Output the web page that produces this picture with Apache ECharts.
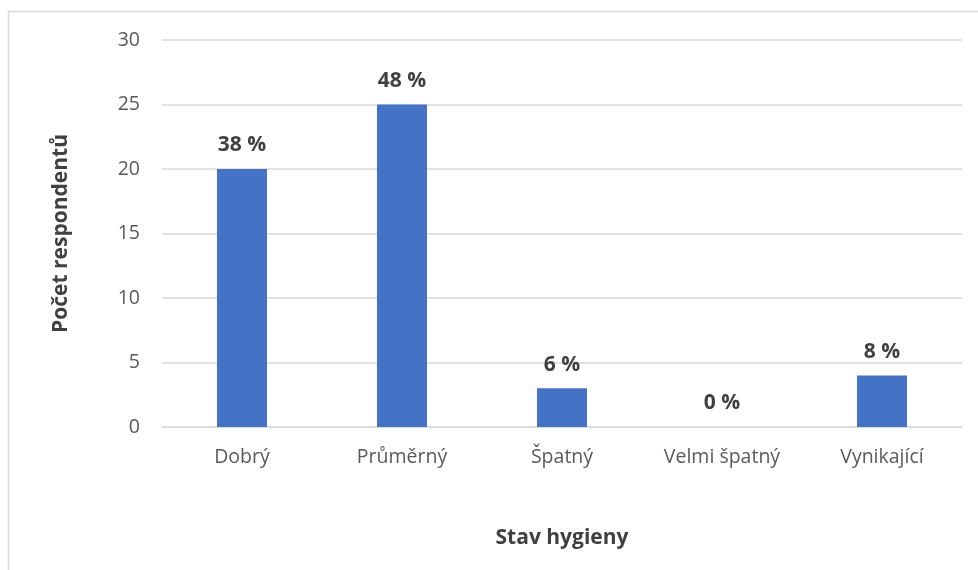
<!DOCTYPE html>
<html>
<head>
<meta charset="utf-8">
<script src="https://cdn.jsdelivr.net/npm/echarts@6/dist/echarts.min.js"></script>
<style>
  html, body { margin: 0; padding: 0; background: #fff; }
  #chart { width: 978px; height: 570px; }
</style>
</head>
<body>
<div id="chart"></div>
<script>
// Hygiene rating survey: respondent counts with percentage labels
const categories = ['Dobrý', 'Průměrný', 'Špatný', 'Velmi špatný', 'Vynikající'];
const counts = [20, 25, 3, 0, 4];
const percentLabels = ['38 %', '48 %', '6 %', '0 %', '8 %'];
const yTicks = [0, 5, 10, 15, 20, 25, 30];

const font = '"Open Sans", "Noto Sans", sans-serif';
const chart = echarts.init(document.getElementById('chart'));

chart.setOption({
  animation: false,
  backgroundColor: '#ffffff',
  graphic: [{
    type: 'rect',
    shape: { x: 8.5, y: 11.5, width: 1000, height: 600 },
    style: { fill: 'none', stroke: '#d9d9d9', lineWidth: 1.5 },
    silent: true
  }],
  grid: { left: 162, right: 16, top: 40, bottom: 143 },
  xAxis: {
    type: 'category',
    data: categories,
    name: 'Stav hygieny',
    nameLocation: 'middle',
    nameGap: 101,
    nameTextStyle: { fontFamily: font, fontSize: 21, fontWeight: 'bold', color: '#404040' },
    axisLine: { lineStyle: { color: '#d9d9d9', width: 1.5 } },
    axisTick: { show: false },
    axisLabel: { fontFamily: font, fontSize: 19.5, color: '#595959', margin: 20 }
  },
  yAxis: {
    type: 'value',
    min: yTicks[0],
    max: yTicks[yTicks.length - 1],
    interval: 5,
    name: 'Počet respondentů',
    nameLocation: 'middle',
    nameGap: 90,
    nameTextStyle: { fontFamily: font, fontSize: 21, fontWeight: 'bold', color: '#404040' },
    axisLine: { show: false },
    axisTick: { show: false },
    axisLabel: { fontFamily: font, fontSize: 19.5, color: '#595959', margin: 22 },
    splitLine: { lineStyle: { color: '#d9d9d9', width: 1.5 } }
  },
  series: [{
    type: 'bar',
    data: counts,
    barWidth: 50,
    itemStyle: { color: '#4472c4' },
    label: {
      show: true,
      position: 'top',
      distance: 13,
      fontFamily: font,
      fontSize: 21,
      fontWeight: 'bold',
      color: '#404040',
      formatter: p => percentLabels[p.dataIndex]
    }
  }]
});
</script>
</body>
</html>
